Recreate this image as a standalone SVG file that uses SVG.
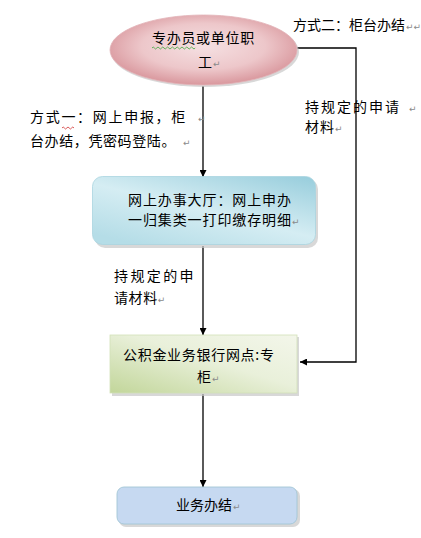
<svg xmlns="http://www.w3.org/2000/svg" width="421" height="538" viewBox="0 0 421 538">
<style>
  text { font-family: "Noto Sans CJK SC", "Noto Sans", sans-serif; font-size: 14px; fill: #000; }
  .rm { font-family: "DejaVu Sans", sans-serif; font-size: 9px; fill: #8a8a8a; letter-spacing: 0; }
  .conn { fill: none; stroke: #000; stroke-width: 1.3; }
  .shadow { fill: #c8c8c8; opacity: 0.7; }
</style>
<defs>
  <radialGradient id="gPink" cx="0.5" cy="0.45" r="0.55">
    <stop offset="0" stop-color="#f5e0e2"/>
    <stop offset="0.6" stop-color="#edc7ca"/>
    <stop offset="1" stop-color="#d9979d"/>
  </radialGradient>
  <linearGradient id="gBlue" x1="1" y1="0" x2="0.2" y2="1">
    <stop offset="0" stop-color="#97cddc"/>
    <stop offset="0.55" stop-color="#d5edf3"/>
    <stop offset="1" stop-color="#b5dde7"/>
  </linearGradient>
  <linearGradient id="gGreen" x1="0" y1="1" x2="1" y2="0">
    <stop offset="0" stop-color="#c2d69a"/>
    <stop offset="0.55" stop-color="#e9f0da"/>
    <stop offset="1" stop-color="#f3f6ea"/>
  </linearGradient>
  <marker id="arr" viewBox="0 0 10 10" refX="10" refY="5" markerWidth="7" markerHeight="7" markerUnits="userSpaceOnUse" orient="auto">
    <path d="M0,0 L10,5 L0,10 Z" fill="#000"/>
  </marker>
</defs>

<g id="connectors">
  <line class="conn" x1="203" y1="86" x2="203" y2="177" marker-end="url(#arr)"/>
  <line class="conn" x1="203" y1="246" x2="203" y2="335" marker-end="url(#arr)"/>
  <line class="conn" x1="203" y1="394" x2="203" y2="487" marker-end="url(#arr)"/>
  <polyline class="conn" points="297,48 356,48 356,362 300,362" marker-end="url(#arr)"/>
</g>

<g id="node-start">
  <ellipse class="shadow" cx="205" cy="52" rx="94" ry="35"/>
  <ellipse cx="203.5" cy="50" rx="93.5" ry="35" fill="url(#gPink)" stroke="#e2b3b7" stroke-width="0.8"/>
  <text x="152" y="43" letter-spacing="0.7">专办员或单位职</text>
  <path d="M152,48 q1.2,-2 2.4,0 t2.4,0 t2.4,0 t2.4,0 t2.4,0 t2.4,0 t2.4,0 t2.4,0 t2.4,0 t2.4,0 t2.4,0 t2.4,0 t2.4,0 t2.4,0 t2.4,0 t2.4,0 t2.4,0 t2.4,0" fill="none" stroke="#3aa83a" stroke-width="0.8"/>
  <text x="198" y="67">工<tspan class="rm" dx="1">↵</tspan></text>
</g>

<g id="label-way1">
  <text x="30" y="122" letter-spacing="1.7">方式一：网上申报，柜<tspan class="rm" x="198">↵</tspan></text>
  <path d="M62,128 q1.2,-2 2.4,0 t2.4,0 t2.4,0 t2.4,0 t2.4,0" fill="none" stroke="#d03030" stroke-width="0.8"/>
  <text x="30" y="146" letter-spacing="0.6">台办结，凭密码登陆。<tspan class="rm" x="183">↵</tspan></text>
</g>

<g id="label-way2">
  <text x="293" y="30">方式二：柜台办结<tspan class="rm" dx="1">↵↵</tspan></text>
</g>

<g id="label-right">
  <text x="305" y="112" letter-spacing="2">持规定的申请<tspan class="rm" x="409">↵</tspan></text>
  <text x="305" y="132" letter-spacing="1">材料<tspan class="rm" dx="0">↵</tspan></text>
</g>

<g id="node-online">
  <rect class="shadow" x="95" y="179" width="223" height="69" rx="10"/>
  <rect x="92.5" y="176.5" width="223" height="68" rx="10" fill="url(#gBlue)" stroke="#a9d4df" stroke-width="0.8"/>
  <text x="128" y="205" letter-spacing="0.9">网上办事大厅：网上申办</text>
  <text x="128" y="225" letter-spacing="0.9">一归集类一打印缴存明细<tspan class="rm" dx="0">↵</tspan></text>
</g>

<g id="label-mid">
  <text x="114" y="281" letter-spacing="2.4">持规定的申</text>
  <text x="114" y="303" letter-spacing="0.6">请材料<tspan class="rm" dx="0">↵</tspan></text>
</g>

<g id="node-bank">
  <rect class="shadow" x="112" y="337" width="187" height="59"/>
  <rect x="110" y="335" width="187" height="58" fill="url(#gGreen)" stroke="#d3e1b8" stroke-width="0.8"/>
  <text x="123" y="360" letter-spacing="0.7">公积金业务银行网点:专</text>
  <text x="197" y="382">柜<tspan class="rm" dx="1">↵</tspan></text>
</g>

<g id="node-end">
  <rect class="shadow" x="119" y="489" width="181" height="38" rx="7"/>
  <rect x="117" y="487" width="180" height="37" rx="7" fill="#c6d9f1" stroke="#a3c6d6" stroke-width="0.9"/>
  <text x="176" y="510">业务办结<tspan class="rm" dx="1">↵</tspan></text>
</g>
</svg>
